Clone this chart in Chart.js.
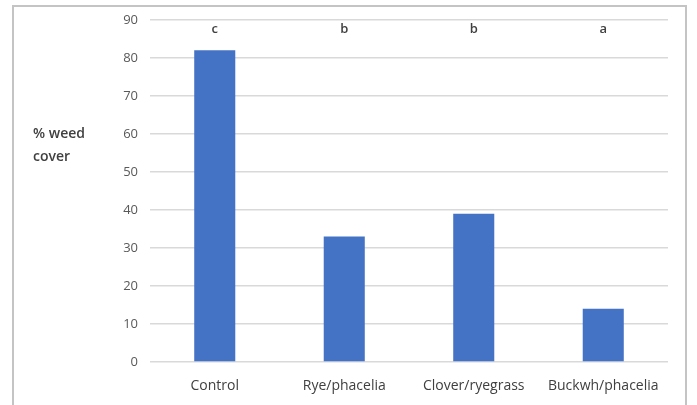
<!DOCTYPE html>
<html>
<head>
<meta charset="utf-8">
<script src="https://cdn.jsdelivr.net/npm/chart.js@4/dist/chart.umd.min.js"></script>
<style>
  html, body { margin: 0; padding: 0; background: #fff; }
  #wrap { position: absolute; left: 0; top: 0; width: 697px; height: 405px; }
  #frame { position: absolute; left: 12px; top: 5px; width: 675px; height: 420px; border: 2px solid #c4c4c4; box-sizing: border-box; }
  canvas { position: absolute; left: 0; top: 0; }
</style>
</head>
<body>
<div id="wrap">
  <div id="frame"></div>
  <canvas id="c" width="697" height="405"></canvas>
</div>
<script>
const categories = ["Control", "Rye/phacelia", "Clover/ryegrass", "Buckwh/phacelia"];
const weedCover = [82, 33, 39, 14];
const groupLetters = ["c", "b", "b", "a"];
const yTicks = [0, 10, 20, 30, 40, 50, 60, 70, 80, 90];
const yTitleLines = ["% weed", "cover"];

const FONT = "'Open Sans', 'Liberation Sans', sans-serif";

const extras = {
  id: 'extras',
  afterDatasetsDraw(chart) {
    const ctx = chart.ctx;
    const xs = chart.scales.x;
    const area = chart.chartArea;
    ctx.save();
    ctx.fillStyle = '#404040';
    ctx.font = "600 13px " + FONT;
    ctx.textAlign = 'center';
    ctx.textBaseline = 'middle';
    groupLetters.forEach((l, i) => {
      ctx.fillText(l, xs.getPixelForValue(i), area.top + 9);
    });
    ctx.font = "600 14px " + FONT;
    ctx.textAlign = 'left';
    yTitleLines.forEach((t, i) => {
      ctx.fillText(t, 33, 134 + i * 23);
    });
    ctx.restore();
  }
};

new Chart(document.getElementById('c'), {
  type: 'bar',
  data: {
    labels: categories,
    datasets: [{
      data: weedCover,
      backgroundColor: '#4472c4',
      borderWidth: 0,
      barPercentage: 0.317,
      categoryPercentage: 1.0
    }]
  },
  options: {
    responsive: false,
    animation: false,
    events: [],
    layout: { padding: { left: 0, right: 29, top: 17, bottom: 0 } },
    plugins: { legend: { display: false }, tooltip: { enabled: false } },
    scales: {
      x: {
        grid: { display: false, drawTicks: false },
        border: { display: false },
        ticks: { color: '#404040', font: { family: FONT, size: 14 }, padding: 16, maxRotation: 0, autoSkip: false },
        afterFit(scale) { scale.height = 43; }
      },
      y: {
        min: 0, max: 90,
        afterBuildTicks(scale) { scale.ticks = yTicks.map(v => ({ value: v })); },
        grid: { color: '#d9d9d9', lineWidth: 1.5, drawTicks: false },
        border: { display: false },
        ticks: { color: '#595959', font: { family: FONT, size: 13 }, padding: 12 },
        afterFit(scale) { scale.width = 150; }
      }
    }
  },
  plugins: [extras]
});
</script>
</body>
</html>
